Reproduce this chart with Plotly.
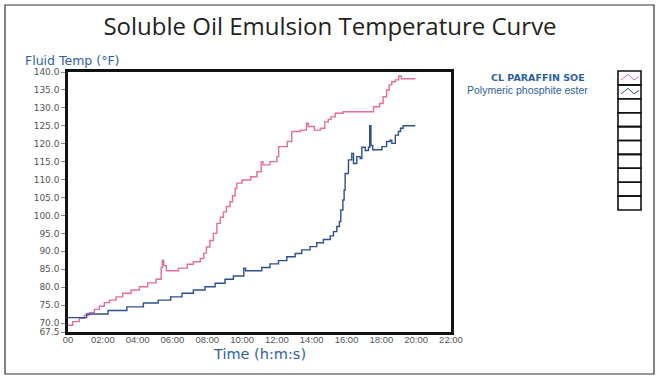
import plotly.graph_objects as go

# ---- data ----
paraffin_t = [0, 0.27, 0.65, 0.94, 1.23, 1.51, 1.8, 2.09, 2.38, 2.76, 3.14, 3.62, 4.1, 4.58, 5.06,
              5.35, 5.42, 5.5, 5.65, 6.35, 6.85, 7.2, 7.6, 7.8, 7.95, 8.15, 8.35, 8.55, 8.75, 8.93,
              9.1, 9.31, 9.45, 9.6, 9.7, 10.0, 10.5, 10.85, 11.1, 11.2, 11.6, 12.0, 12.1, 12.6,
              12.85, 13.35, 13.7, 13.8, 14.15, 14.5, 14.75, 14.95, 15.1, 15.35, 15.8, 17.55, 17.9,
              18.1, 18.3, 18.45, 18.6, 18.8, 19.0, 19.15, 19.95]
paraffin_v = [69.4, 70.4, 71.3, 72.2, 72.9, 73.8, 74.7, 75.7, 76.4, 77.3, 78.3, 79.2, 80.1, 81.2, 82.2,
              85.5, 87.5, 86.0, 84.6, 85.3, 86.4, 87.1, 88.0, 89.5, 91.2, 93.0, 95.0, 97.8, 99.5, 101.0,
              102.5, 103.8, 105.5, 107.5, 109.0, 109.9, 110.8, 112.2, 115.0, 114.1, 115.0, 116.4, 119.2, 120.6,
              123.4, 123.8, 125.7, 124.8, 123.8, 124.3, 126.1, 126.8, 127.5, 128.5, 128.9, 130.3, 131.2,
              133.1, 135.0, 136.4, 137.3, 137.8, 138.9, 138.1, 138.1]

phosphite_t = [0, 1.07, 2.3, 3.38, 4.33, 5.18, 5.9, 6.55, 7.2, 7.87, 8.45, 9.02, 9.5, 10.1, 10.2,
               11.13, 11.6, 12.09, 12.57, 13.05, 13.43, 13.9, 14.29, 14.67, 15.06, 15.25, 15.44,
               15.59, 15.67, 15.79, 15.86, 15.92, 16.11, 16.3, 16.4, 16.59, 16.78, 16.88, 17.07,
               17.26, 17.33, 17.4, 17.5, 18.03, 18.3, 18.5, 18.6, 18.8, 18.98, 19.1, 19.25, 19.95]
phosphite_v = [71.5, 72.5, 73.5, 74.5, 75.6, 76.4, 77.3, 78.3, 79.2, 80.1, 81.1, 82.2, 83.1, 85.3, 84.6,
               85.5, 86.5, 87.4, 88.5, 89.4, 90.4, 91.3, 92.4, 93.3, 94.3, 95.5, 96.9,
               98.3, 101.5, 104.3, 107.1, 111.7, 115.5, 117.3, 114.5, 116.4, 115.9, 119.0, 118.1,
               119.0, 125.0, 119.5, 118.3, 119.2, 120.6, 121.0, 120.1, 122.4, 123.4, 124.3, 125.0, 125.0]

series_names = ["CL PARAFFIN SOE", "Polymeric phosphite ester"]
x_tickvals = list(range(0, 23, 2))
x_ticktext = ["00", "02:00", "04:00", "06:00", "08:00", "10:00", "12:00", "14:00",
              "16:00", "18:00", "20:00", "22:00"]
y_tickvals = [67.5, 70, 75, 80, 85, 90, 95, 100, 105, 110, 115, 120, 125, 130, 135, 140]
y_ticktext = [f"{v:.1f}" for v in y_tickvals]

PINK = "#e56c9e"
BLUE = "#2c4f8f"
AXBLUE = "#2f5f9f"

W, H = 661, 380
L, R, T, B = 68, 451, 72, 332


def px(x):
    return (x - L) / (R - L)


def py(y):
    return (B - y) / (B - T)


fig = go.Figure()
fig.add_trace(go.Scatter(x=paraffin_t, y=paraffin_v, mode="lines", line_shape="hv",
                         line=dict(color=PINK, width=1.4), name=series_names[0]))
fig.add_trace(go.Scatter(x=phosphite_t, y=phosphite_v, mode="lines", line_shape="hv",
                         line=dict(color=BLUE, width=1.4), name=series_names[1]))

shapes = []
# outer frame
shapes.append(dict(type="rect", xref="paper", yref="paper", x0=px(5), x1=px(654), y0=py(374), y1=py(5),
                   line=dict(color="#333333", width=1.2), layer="below"))
# legend boxes
n_boxes = 10
top, bot = 71, 210
bh = (bot - top) / n_boxes
for i in range(n_boxes):
    shapes.append(dict(type="rect", xref="paper", yref="paper", x0=px(618), x1=px(641),
                       y0=py(top + (i + 1) * bh), y1=py(top + i * bh),
                       line=dict(color="#111111", width=1.6)))
# wave icons
for i, col in enumerate([PINK, BLUE]):
    y0 = top + i * bh
    pts = [(621, y0 + 9), (628, y0 + 3.5), (634, y0 + 9), (639, y0 + 5.5)]
    path = "M " + " L ".join(f"{px(a)},{py(b)}" for a, b in pts)
    shapes.append(dict(type="path", xref="paper", yref="paper", path=path,
                       line=dict(color=col, width=1)))

annotations = [
    dict(text="Fluid Temp (°F)", x=px(23), y=py(61), xref="paper", yref="paper",
         xanchor="left", yanchor="middle", showarrow=False,
         font=dict(family="DejaVu Sans", size=12.5, color=AXBLUE)),
    dict(text="Time (h:m:s)", x=px(259), y=py(354), xref="paper", yref="paper",
         xanchor="center", yanchor="middle", showarrow=False,
         font=dict(family="DejaVu Sans", size=14.5, color=AXBLUE)),
    dict(text="<b>" + series_names[0] + "</b>", x=px(587), y=py(77), xref="paper", yref="paper",
         xanchor="right", yanchor="middle", showarrow=False,
         font=dict(family="DejaVu Sans", size=9.5, color=AXBLUE)),
    dict(text=series_names[1], x=px(590), y=py(90), xref="paper", yref="paper",
         xanchor="right", yanchor="middle", showarrow=False,
         font=dict(family="Liberation Sans Narrow, Liberation Sans, Arial", size=10.5, color=AXBLUE)),
]

fig.update_layout(
    width=W, height=H,
    margin=dict(l=L, r=W - R, t=T, b=H - B),
    paper_bgcolor="white", plot_bgcolor="white",
    showlegend=False,
    title=dict(text="Soluble Oil Emulsion Temperature Curve", x=330 / W, xanchor="center",
               y=1 - 27 / H, yanchor="middle",
               font=dict(family="Open Sans", size=24, color="#231f20")),
    shapes=shapes, annotations=annotations,
)
fig.update_xaxes(range=[0, 22], tickvals=x_tickvals, ticktext=x_ticktext,
                 showgrid=False, zeroline=False, showline=True, mirror=True,
                 linecolor="#111111", linewidth=2.5, ticks="", ticklabelstandoff=-3,
                 tickfont=dict(family="Liberation Sans, Arial", size=9.5, color="#555555"))
fig.update_yaxes(range=[67.5, 140], tickvals=y_tickvals, ticktext=y_ticktext,
                 showgrid=False, zeroline=False, showline=True, mirror=True,
                 linecolor="#111111", linewidth=2.5, ticks="outside", ticklen=4,
                 tickcolor="#888888",
                 tickfont=dict(family="DejaVu Sans", size=9, color="#555555"))

fig.write_html("out.html", config={"displayModeBar": False},
               post_script="document.body.style.margin='0';document.body.style.overflow='hidden';")
